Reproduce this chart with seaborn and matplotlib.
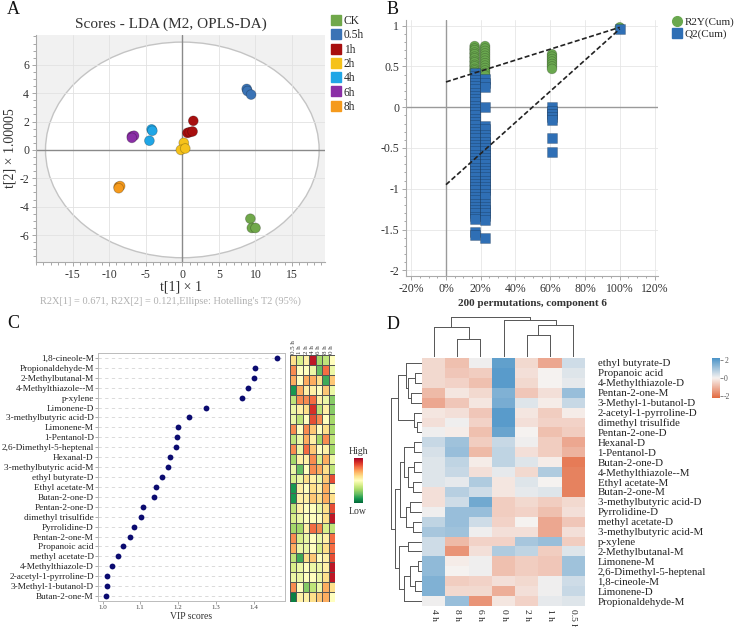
import numpy as np
import pandas as pd
import matplotlib
matplotlib.use("Agg")
import matplotlib.pyplot as plt
from matplotlib.patches import Ellipse
from matplotlib.lines import Line2D
from matplotlib.colors import LinearSegmentedColormap, Normalize
from matplotlib.cm import ScalarMappable
from matplotlib.ticker import MultipleLocator, FuncFormatter
import seaborn as sns

# ---- A: OPLS-DA score plot
groups = ["CK", "0.5h", "1h", "2h", "4h", "6h", "8h"]
group_colors = ["#70a84a", "#3a73b5", "#a80f0f", "#f5c21b", "#20a6e6", "#8a2fa6", "#f59a1c"]
score_group = ["CK"] * 3 + ["0.5h"] * 3 + ["1h"] * 4 + ["2h"] * 3 + ["4h"] * 3 + ["6h"] * 3 + ["8h"] * 3
score_t1 = [9.3, 9.5, 10.0, 8.8, 8.9, 9.4, 1.5, 0.7, 1.0, 1.4, 0.2, -0.2, 0.4,
            -4.2, -4.1, -4.5, -6.9, -6.6, -6.9, -8.7, -8.5, -8.7]
score_t2 = [-4.85, -5.5, -5.5, 4.3, 4.15, 3.9, 2.05, 1.2, 1.25, 1.3, 0.5, 0.0, 0.1,
            1.45, 1.35, 0.65, 0.95, 1.0, 0.85, -2.6, -2.55, -2.7]
hotelling_axes = (18.7, 7.6)

# ---- B: permutation test (200 permutations)
r2y_x = [16.5] * 14 + [22.5] * 13 + [61] * 7 + [100]
r2y_y = [0.75, 0.72, 0.70, 0.67, 0.65, 0.62, 0.60, 0.57, 0.55, 0.52, 0.50, 0.47, 0.45, 0.43,
         0.75, 0.72, 0.69, 0.66, 0.63, 0.60, 0.57, 0.54, 0.51, 0.48, 0.45, 0.42, 0.39,
         0.65, 0.62, 0.59, 0.56, 0.53, 0.50, 0.47,
         0.98]
q2_c1 = [0.42, 0.38, 0.34, 0.30, 0.26, 0.22, 0.18, 0.14, 0.10, 0.06, 0.02, -0.02, -0.06, -0.10,
         -0.14, -0.18, -0.22, -0.26, -0.30, -0.34, -0.38, -0.42, -0.46, -0.50, -0.54, -0.58,
         -0.62, -0.66, -0.70, -0.74, -0.78, -0.82, -0.86, -0.90, -0.94, -0.98, -1.02, -1.06,
         -1.10, -1.14, -1.18, -1.22, -1.26, -1.30, -1.34, -1.37, -1.53, -1.57]
q2_c2 = [0.35, 0.30, 0.25, 0.0, -0.23, -0.27, -0.34, -0.38, -0.42, -0.46, -0.50, -0.54, -0.58,
         -0.62, -0.66, -0.70, -0.74, -0.78, -0.82, -0.86, -0.90, -0.94, -0.98, -1.02, -1.06,
         -1.10, -1.18, -1.22, -1.26, -1.30, -1.34, -1.38, -1.60]
q2_c3 = [0.0, -0.04, -0.08, -0.12, -0.16, -0.38, -0.55]
q2_c4 = [0.96]
q2_x = [16.5] * len(q2_c1) + [22.5] * len(q2_c2) + [61] * len(q2_c3) + [100]
q2_y = q2_c1 + q2_c2 + q2_c3 + q2_c4
r2y_fit = (0.31, 0.98)   # intercept, original model
q2_fit = (-0.95, 0.96)

# ---- C: VIP scores
vip_names = ["1,8-cineole-M", "Propionaldehyde-M", "2-Methylbutanal-M", "4-Methylthiazole--M",
             "p-xylene", "Limonene-D", "3-methylbutyric acid-D", "Limonene-M", "1-Pentanol-D",
             "2,6-Dimethyl-5-heptenal", "Hexanal-D", "3-methylbutyric acid-M", "ethyl butyrate-D",
             "Ethyl acetate-M", "Butan-2-one-D", "Pentan-2-one-D", "dimethyl trisulfide",
             "Pyrrolidine-D", "Pentan-2-one-M", "Propanoic acid", "methyl acetate-D",
             "4-Methylthiazole-D", "2-acetyl-1-pyrroline-D", "3-Methyl-1-butanol-D", "Butan-2-one-M"]
vip_scores = [1.461, 1.404, 1.401, 1.386, 1.370, 1.274, 1.230, 1.201, 1.196, 1.195, 1.178,
              1.173, 1.158, 1.141, 1.135, 1.108, 1.102, 1.083, 1.073, 1.055, 1.040, 1.026,
              1.012, 1.011, 1.009]
vip_cols = ["0.5 h", "1 h", "2 h", "4 h", "6 h", "8 h", "0 h"]
vip_heat = [
    [0.60, 0.40, 0.55, 0.95, 0.30, 0.35, 0.50],
    [0.75, 0.50, 0.50, 0.45, 0.20, 0.80, 0.45],
    [0.70, 0.50, 0.70, 0.70, 0.60, 0.15, 0.65],
    [0.10, 0.70, 0.55, 0.55, 0.50, 0.65, 0.45],
    [0.35, 0.75, 0.75, 0.80, 0.55, 0.45, 0.25],
    [0.45, 0.55, 0.60, 0.90, 0.35, 0.55, 0.25],
    [0.45, 0.35, 0.50, 0.85, 0.75, 0.50, 0.30],
    [0.75, 0.50, 0.75, 0.65, 0.50, 0.60, 0.30],
    [0.35, 0.45, 0.70, 0.55, 0.30, 0.75, 0.35],
    [0.75, 0.45, 0.80, 0.65, 0.50, 0.55, 0.30],
    [0.30, 0.55, 0.55, 0.75, 0.40, 0.70, 0.45],
    [0.45, 0.20, 0.50, 0.75, 0.70, 0.60, 0.35],
    [0.40, 0.45, 0.60, 0.55, 0.45, 0.65, 0.85],
    [0.10, 0.55, 0.50, 0.60, 0.55, 0.70, 0.50],
    [0.10, 0.55, 0.55, 0.65, 0.60, 0.70, 0.60],
    [0.35, 0.55, 0.50, 0.50, 0.45, 0.60, 0.85],
    [0.40, 0.45, 0.50, 0.50, 0.50, 0.60, 0.95],
    [0.30, 0.30, 0.55, 0.80, 0.75, 0.40, 0.35],
    [0.75, 0.40, 0.45, 0.50, 0.45, 0.55, 0.80],
    [0.70, 0.45, 0.45, 0.50, 0.40, 0.60, 0.80],
    [0.35, 0.15, 0.60, 0.65, 0.50, 0.55, 0.85],
    [0.40, 0.45, 0.50, 0.45, 0.45, 0.55, 0.95],
    [0.45, 0.45, 0.50, 0.50, 0.45, 0.60, 0.95],
    [0.75, 0.50, 0.25, 0.35, 0.45, 0.70, 0.60],
    [0.05, 0.55, 0.55, 0.60, 0.65, 0.70, 0.50],
]

# ---- D: clustered heatmap (z-scores)
hm_rows = ["ethyl butyrate-D", "Propanoic acid", "4-Methylthiazole-D", "Pentan-2-one-M",
           "3-Methyl-1-butanol-D", "2-acetyl-1-pyrroline-D", "dimethyl trisulfide",
           "Pentan-2-one-D", "Hexanal-D", "1-Pentanol-D", "Butan-2-one-D", "4-Methylthiazole--M",
           "Ethyl acetate-M", "Butan-2-one-M", "3-methylbutyric acid-D", "Pyrrolidine-D",
           "methyl acetate-D", "3-methylbutyric acid-M", "p-xylene", "2-Methylbutanal-M",
           "Limonene-M", "2,6-Dimethyl-5-heptenal", "1,8-cineole-M", "Limonene-D",
           "Propionaldehyde-M"]
hm_cols = ["4 h", "8 h", "6 h", "0 h", "2 h", "1 h", "0.5 h"]
hm_values = [
    [-0.4, -0.8, 0.1, 1.9, -0.4, -1.2, 0.5],
    [-0.4, -0.7, -0.6, 2.0, -0.3, 0.0, 0.3],
    [-0.4, -0.5, -0.8, 2.0, -0.4, 0.0, 0.2],
    [-0.9, -0.2, -0.4, 1.5, -0.7, -0.3, 1.2],
    [-1.2, -0.7, -0.2, 1.6, 0.3, -0.1, 0.6],
    [-0.2, -0.3, -0.7, 2.0, -0.2, -0.6, -0.1],
    [-0.3, 0.1, -0.5, 2.0, -0.3, -0.5, -0.5],
    [0.1, -0.1, -0.8, 1.8, 0.0, -0.8, -0.6],
    [0.6, 1.1, -0.6, 0.6, 0.1, -0.6, -1.2],
    [0.4, 1.2, -0.9, 0.7, -0.3, -0.6, -1.0],
    [0.3, 0.7, -0.1, 0.7, 0.3, -0.1, -1.9],
    [0.3, 0.6, -0.3, 0.2, -0.4, 0.9, -1.8],
    [0.3, 0.2, 0.9, -0.2, 0.3, 0.0, -1.8],
    [-0.3, 0.8, 0.5, -0.2, 0.2, 0.3, -1.8],
    [-0.3, 0.5, 1.7, -0.6, -0.4, -0.6, -0.4],
    [0.1, 1.2, 1.2, -0.6, -0.5, -0.8, -0.3],
    [0.7, 1.2, 0.5, -0.5, 0.0, -1.2, -0.7],
    [1.0, 1.1, 0.1, -0.3, -0.3, -1.2, -0.3],
    [0.5, -0.9, -0.5, -0.5, 1.0, 1.2, -0.6],
    [0.5, -1.5, -0.3, 0.9, 0.7, -0.6, 0.3],
    [1.3, -0.1, 0.1, -0.8, -0.6, -0.7, 1.1],
    [1.3, 0.0, 0.1, -0.8, -0.6, -0.7, 1.1],
    [1.5, -0.6, -0.5, -0.3, -0.4, 0.1, 0.5],
    [1.5, -0.4, -0.4, -1.1, -0.3, 0.1, 0.6],
    [0.1, 1.2, -1.5, -0.2, -0.5, 0.2, 0.3],
]
# linkage in scipy style: (child a, child b, height), new ids start at n
row_merges = [(1, 2, 0.5), (3, 4, 0.8), (25, 26, 1.0), (0, 27, 1.2), (6, 7, 0.4), (5, 29, 0.6),
              (28, 30, 1.8), (8, 9, 0.6), (10, 11, 0.6), (12, 13, 0.7), (33, 34, 1.0),
              (32, 35, 1.3), (14, 15, 0.9), (16, 17, 0.7), (37, 38, 1.2), (36, 39, 1.6),
              (18, 19, 1.0), (20, 21, 0.3), (22, 23, 0.5), (42, 43, 0.9), (44, 24, 1.3),
              (41, 45, 1.7), (40, 46, 2.0), (31, 47, 2.3)]
col_merges = [(1, 2, 0.45), (0, 7, 0.75), (4, 5, 0.55), (9, 6, 0.8), (3, 10, 0.92), (8, 11, 1.0)]

sns.set_theme(style="white")
plt.rcParams["font.family"] = ["Liberation Serif", "DejaVu Serif"]
plt.rcParams["axes.unicode_minus"] = False

W, H = 742, 627
fig = plt.figure(figsize=(W / 100, H / 100), dpi=100)


def box(l, t, r, b):
    # pixel box -> figure fraction
    return [l / W, 1 - b / H, (r - l) / W, (b - t) / H]


def draw_dendro(ax, merges, n, orient):
    pos = {i: i + 0.5 for i in range(n)}
    hgt = {i: 0.0 for i in range(n)}
    kw = dict(color="#555555", lw=0.7)
    for k, (a, b, h) in enumerate(merges):
        for c in (a, b):
            if orient == "top":
                ax.plot([pos[c], pos[c]], [hgt[c], h], **kw)
            else:
                ax.plot([hgt[c], h], [pos[c], pos[c]], **kw)
        if orient == "top":
            ax.plot([pos[a], pos[b]], [h, h], **kw)
        else:
            ax.plot([h, h], [pos[a], pos[b]], **kw)
        pos[n + k] = (pos[a] + pos[b]) / 2
        hgt[n + k] = h
    top = max(m[2] for m in merges) * 1.03
    if orient == "top":
        ax.set_xlim(0, n)
        ax.set_ylim(0, top)
    else:
        ax.set_ylim(n, 0)
        ax.set_xlim(top, 0)
    ax.axis("off")


# ================= A =================
axA = fig.add_axes(box(36, 35, 325, 262))
axA.set_facecolor("#f1f1f1")
axA.add_patch(Ellipse((0, 0), 2 * hotelling_axes[0], 2 * hotelling_axes[1], facecolor="white",
                      edgecolor="#c4c4c4", lw=1.0, zorder=0.2))
axA.set_axisbelow(True)
axA.grid(True, color="#e2e2e2", lw=0.6)
dfA = pd.DataFrame({"t1": score_t1, "t2": score_t2, "group": score_group})
sns.scatterplot(data=dfA, x="t1", y="t2", hue="group", palette=dict(zip(groups, group_colors)),
                s=50, edgecolor=(0, 0, 0, 0.25), linewidth=0.6, legend=False, ax=axA, zorder=3)
axA.axhline(0, color="#8a8a8a", lw=1.0, zorder=1)
axA.axvline(0, color="#8a8a8a", lw=1.0, zorder=1)
axA.set_xlim(-20, 19.5)
axA.set_ylim(-7.9, 8.1)
axA.set_xticks([-15, -10, -5, 0, 5, 10, 15])
axA.set_yticks([-6, -4, -2, 0, 2, 4, 6])
axA.xaxis.set_minor_locator(MultipleLocator(1))
axA.yaxis.set_minor_locator(MultipleLocator(0.5))
axA.tick_params(which="both", direction="out", bottom=True, left=True, colors="#999999",
                labelcolor="#333333", labelsize=8.5, length=3, width=0.6, pad=2)
axA.tick_params(which="minor", length=2)
for s in ["top", "right"]:
    axA.spines[s].set_visible(False)
for s in ["left", "bottom"]:
    axA.spines[s].set_color("#aaaaaa")
    axA.spines[s].set_linewidth(0.8)
axA.set_xlabel("t[1] × 1", fontsize=10, color="#333333", labelpad=0)
axA.set_ylabel("t[2] × 1.00005", fontsize=10, color="#333333", labelpad=2)
axA.set_title("Scores - LDA (M2, OPLS-DA)", fontsize=11, color="#333333", pad=5, x=0.465)
fig.text(170 / W, 1 - 301 / H, "R2X[1] = 0.671, R2X[2] = 0.121,Ellipse: Hotelling's T2 (95%)",
         ha="center", va="center", fontsize=7.5, color="#b0b0b0")
handlesA = [Line2D([], [], marker="s", ls="", mfc=c, mec=c, ms=7.5) for c in group_colors]
fig.legend(handlesA, groups, loc="upper left", bbox_to_anchor=(330 / W, 1 - 15 / H),
           frameon=False, fontsize=8.3, handletextpad=0.2, labelspacing=0.2, borderpad=0,
           handlelength=1.0, borderaxespad=0)

# ================= B =================
axB = fig.add_axes(box(406, 20, 658, 276))
axB.set_axisbelow(True)
axB.grid(True, color="#e6e6e6", lw=0.6)
dfB = pd.DataFrame({"corr": r2y_x + q2_x, "value": r2y_y + q2_y,
                    "kind": ["R2Y(Cum)"] * len(r2y_y) + ["Q2(Cum)"] * len(q2_y)})
axB.axhline(0, color="#9a9a9a", lw=1.0, zorder=1)
axB.axvline(0, color="#9a9a9a", lw=1.0, zorder=1)
sns.scatterplot(data=dfB, x="corr", y="value", hue="kind", style="kind",
                palette={"R2Y(Cum)": "#6aa84f", "Q2(Cum)": "#2f6fb5"},
                markers={"R2Y(Cum)": "o", "Q2(Cum)": "s"}, s=50,
                edgecolor=(0, 0, 0, 0.25), linewidth=0.5, legend=False, ax=axB, zorder=3)
axB.plot([0, 100], list(r2y_fit), color="#222222", lw=1.2, ls=(0, (3, 1.5)), zorder=4)
axB.plot([0, 100], list(q2_fit), color="#222222", lw=1.2, ls=(0, (3, 1.5)), zorder=4)
axB.set_xlim(-23, 122)
axB.set_ylim(-2.07, 1.07)
axB.set_xticks(range(-20, 121, 20))
axB.xaxis.set_major_formatter(FuncFormatter(lambda v, p: f"{v:.0f}%"))
axB.set_yticks([1, 0.5, 0, -0.5, -1, -1.5, -2])
axB.yaxis.set_major_formatter(FuncFormatter(lambda v, p: f"{v:g}"))
axB.yaxis.set_minor_locator(MultipleLocator(0.1))
axB.xaxis.set_minor_locator(MultipleLocator(5))
axB.tick_params(which="both", direction="out", bottom=True, left=True, colors="#999999",
                labelcolor="#333333", labelsize=8.5, length=3, width=0.6, pad=2)
axB.tick_params(which="minor", length=1.5)
for s in ["top", "right"]:
    axB.spines[s].set_visible(False)
for s in ["left", "bottom"]:
    axB.spines[s].set_color("#aaaaaa")
    axB.spines[s].set_linewidth(0.8)
axB.set_xlabel("200 permutations, component 6", fontsize=8, fontweight="bold",
               color="#333333", labelpad=3)
axB.set_ylabel("")
handlesB = [Line2D([], [], marker="o", ls="", mfc="#6aa84f", mec="#6aa84f", ms=7),
            Line2D([], [], marker="s", ls="", mfc="#2f6fb5", mec="#2f6fb5", ms=7)]
fig.legend(handlesB, ["R2Y(Cum)", "Q2(Cum)"], loc="upper left",
           bbox_to_anchor=(671 / W, 1 - 17 / H), frameon=False, fontsize=8,
           handletextpad=0.2, labelspacing=0.15, borderpad=0, handlelength=1.0,
           borderaxespad=0)

# ================= C =================
axC = fig.add_axes(box(98, 353, 285, 601))
sns.stripplot(x=vip_scores, y=vip_names, jitter=False, color="#0b0b70", size=4.2,
              orient="h", ax=axC)
axC.set_xlim(0.988, 1.483)
axC.set_ylim(len(vip_names) - 0.5, -0.5)
axC.set_xticks([1.0, 1.1, 1.2, 1.3, 1.4])
axC.xaxis.set_major_formatter(FuncFormatter(lambda v, p: f"{v:.1f}"))
axC.grid(True, axis="y", color="#d5d5d5", lw=0.6, ls=(0, (4, 4)))
axC.tick_params(axis="y", labelsize=6.7, length=2, width=0.5, left=True, colors="#888888",
                labelcolor="#222222", pad=1)
axC.tick_params(axis="x", labelsize=5, length=2, width=0.5, bottom=True, colors="#888888",
                labelcolor="#444444", pad=1)
for s in axC.spines.values():
    s.set_color("#bbbbbb")
    s.set_linewidth(0.7)
axC.set_xlabel("VIP scores", fontsize=7, color="#333333", labelpad=1)

axCs = fig.add_axes(box(290, 355, 335, 602))
dfC = pd.DataFrame(vip_heat, index=vip_names, columns=vip_cols)
sns.heatmap(dfC, cmap="RdYlGn_r", vmin=0, vmax=1, cbar=False, linewidths=0.7,
            linecolor="#555555", xticklabels=True, yticklabels=False, ax=axCs)
axCs.xaxis.tick_top()
axCs.set_xticklabels(vip_cols, rotation=90, fontsize=5, color="#333333")
axCs.tick_params(axis="x", length=0, pad=1)
axCs.set_xlabel("")
axCs.set_ylabel("")

caxC = fig.add_axes(box(354, 458, 363, 503))
cbC = fig.colorbar(ScalarMappable(norm=Normalize(0, 1), cmap="RdYlGn_r"), cax=caxC)
cbC.set_ticks([])
cbC.outline.set_visible(False)
fig.text(358 / W, 1 - 451 / H, "High", ha="center", va="center", fontsize=7, color="#333333")
fig.text(358 / W, 1 - 511 / H, "Low", ha="center", va="center", fontsize=7, color="#333333")

# ================= D =================
cmapD = LinearSegmentedColormap.from_list("bw_or", ["#e3693f", "#f6f2f0", "#4a93c7"])
axD = fig.add_axes(box(422, 358, 585, 606))
dfD = pd.DataFrame(hm_values, index=hm_rows, columns=hm_cols)
sns.heatmap(dfD, cmap=cmapD, vmin=-2.2, vmax=2.2, cbar=False, xticklabels=True,
            yticklabels=True, ax=axD)
axD.yaxis.tick_right()
axD.set_yticklabels(hm_rows, rotation=0, fontsize=7.8, color="#222222")
axD.set_xticklabels(hm_cols, rotation=270, fontsize=6.8, color="#222222", va="top")
axD.tick_params(axis="y", length=0, pad=9)
axD.tick_params(axis="x", length=0, pad=2)
axD.set_xlabel("")
axD.set_ylabel("")

axDr = fig.add_axes(box(390, 358, 422, 606))
draw_dendro(axDr, row_merges, len(hm_rows), "left")
axDc = fig.add_axes(box(422, 316, 585, 357))
draw_dendro(axDc, col_merges, len(hm_cols), "top")

caxD = fig.add_axes(box(712, 358, 720, 398))
cbD = fig.colorbar(ScalarMappable(norm=Normalize(-2.2, 2.2), cmap=cmapD), cax=caxD,
                   ticks=[-2, 0, 2])
cbD.ax.set_yticklabels(["-2", "0", "2"])
cbD.ax.tick_params(labelsize=5.5, length=2, width=0.5, colors="#555555", pad=1)
cbD.outline.set_visible(False)

# panel letters
for lbl, x, y in [("A", 7, 1), ("B", 387, 1), ("C", 7, 315), ("D", 387, 316)]:
    fig.text(x / W, 1 - y / H, lbl, ha="left", va="top", fontsize=13, color="#111111")

fig.savefig("out.png", dpi=100)
